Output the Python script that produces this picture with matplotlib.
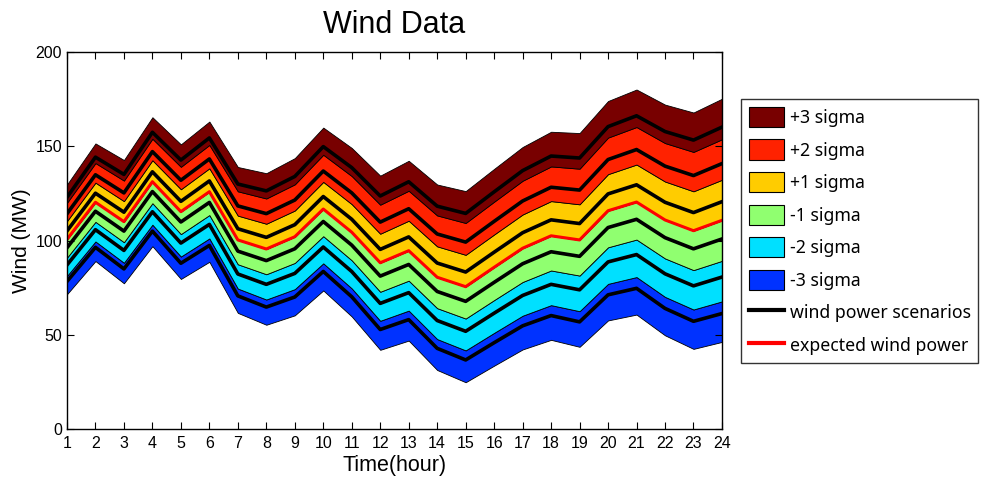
import numpy as np
import matplotlib.pyplot as plt
from matplotlib.patches import Patch
from matplotlib.lines import Line2D

plt.rcParams['font.family'] = ['Liberation Sans', 'DejaVu Sans']

hours = np.arange(1, 25)
# expected wind power per hour (MW)
expected = [100.6, 120.3, 110.0, 131.2, 115.3, 125.9, 100.3, 95.5, 102.0, 116.7, 104.4, 88.2,
            94.6, 80.5, 75.5, 85.8, 95.9, 102.5, 100.3, 115.8, 120.4, 110.9, 105.2, 110.7]
# forecast standard deviation per hour (MW)
sigma = [9.7, 10.4, 10.9, 11.4, 11.9, 12.4, 12.9, 13.4, 13.9, 14.4, 14.9, 15.4,
         15.9, 16.4, 16.9, 17.4, 17.9, 18.4, 18.9, 19.4, 19.9, 20.4, 20.9, 21.5]
# scenario levels in units of sigma
scenario_z = [-2.3, -1.4, -0.46, 0.46, 1.4, 2.3]

band_labels = ['-3 sigma', '-2 sigma', '-1 sigma', '+1 sigma', '+2 sigma', '+3 sigma']
band_limits = [(-3, -2), (-2, -1), (-1, 0), (0, 1), (1, 2), (2, 3)]
band_colors = ['#0032ff', '#00e0ff', '#90ff70', '#ffcc00', '#ff2200', '#780000']

expected = np.array(expected)
sigma = np.array(sigma)

fig = plt.figure(figsize=(9.82, 4.79), dpi=100)
ax = fig.add_axes([0.0682, 0.1044, 0.667, 0.787])

for (lo, hi), c in zip(band_limits, band_colors):
    ax.fill_between(hours, expected + lo * sigma, expected + hi * sigma,
                    facecolor=c, edgecolor='black', linewidth=0.6)

for z in scenario_z:
    ax.plot(hours, expected + z * sigma, color='black', lw=2.6)
ax.plot(hours, expected, color='red', lw=2.2)

ax.set_xlim(1, 24)
ax.set_ylim(0, 200)
ax.set_xticks(hours)
ax.set_yticks([0, 50, 100, 150, 200])
ax.tick_params(direction='in', top=True, right=True, labelsize=11.5, length=5, width=0.8)
ax.tick_params(axis='x', pad=5)
for s in ax.spines.values():
    s.set_linewidth(1.0)

ax.set_title('Wind Data', fontsize=22, pad=14)
ax.set_xlabel('Time(hour)', fontsize=15.5, labelpad=3)
ax.set_ylabel('Wind (MW)', fontsize=15, labelpad=3)

handles = [Patch(facecolor=c, edgecolor='black', linewidth=0.8)
           for c in band_colors[::-1]]
handles += [Line2D([], [], color='black', lw=3), Line2D([], [], color='red', lw=3)]
labels = band_labels[::-1] + ['wind power scenarios', 'expected wind power']
leg = fig.legend(handles, labels, loc='upper left', bbox_to_anchor=(0.7546, 0.7933),
                 prop={'family': 'Noto Sans', 'size': 12.7}, frameon=True, fancybox=False,
                 edgecolor='black', handlelength=2.0, handleheight=1.4,
                 handletextpad=0.3, labelspacing=0.69, borderpad=0.45, borderaxespad=0)
leg.get_frame().set_linewidth(1.0)

fig.savefig('out.png', dpi=100)
